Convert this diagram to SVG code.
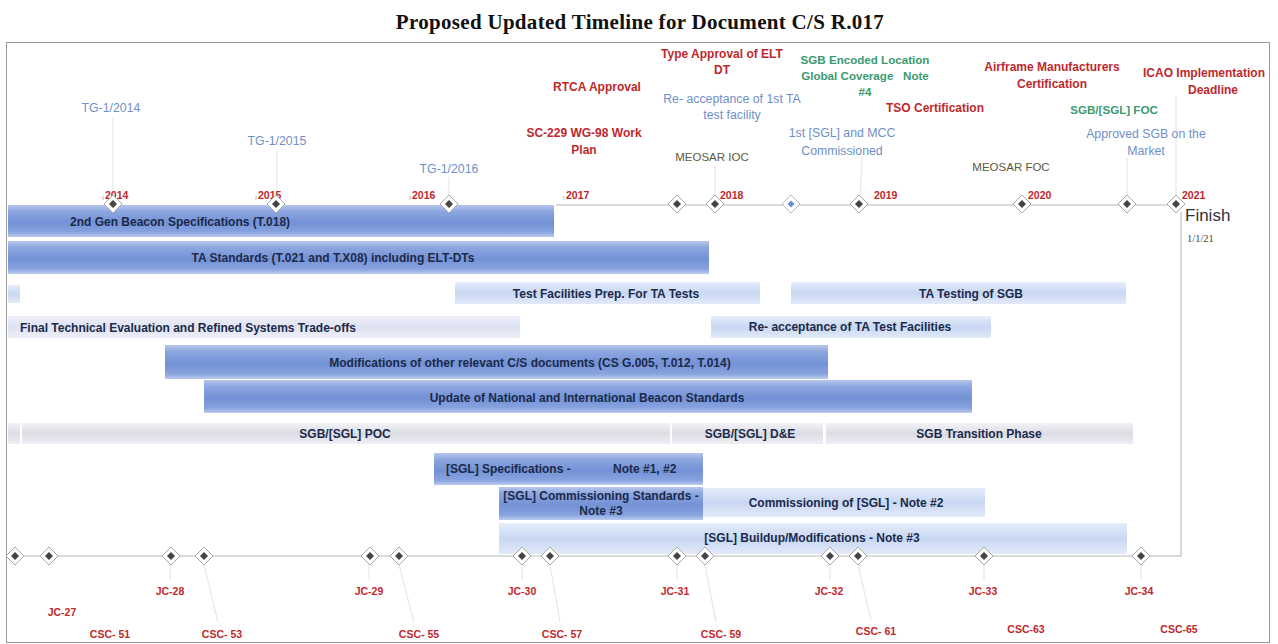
<svg xmlns="http://www.w3.org/2000/svg" width="1278" height="644" viewBox="0 0 1278 644">
<style>
.title{font-family:"Liberation Serif",serif;font-weight:bold;font-size:21px;letter-spacing:0.3px;fill:#111}
.bt{font-family:"Liberation Sans",Arial,sans-serif;font-weight:bold;font-size:12px;fill:#1b2a4a}
.red{font-family:"Liberation Sans",Arial,sans-serif;font-weight:bold;font-size:12px;fill:#c0282d}
.blu{font-family:"Liberation Sans",Arial,sans-serif;font-size:12.3px;fill:#6f8fc9}
.grn{font-family:"Liberation Sans",Arial,sans-serif;font-weight:bold;font-size:11.6px;fill:#3c9a70}
.olv{font-family:"Liberation Sans",Arial,sans-serif;font-size:11.5px;fill:#5a5a3a}
.yr{font-family:"Liberation Sans",Arial,sans-serif;font-weight:bold;font-size:10.5px;fill:#c0282d}
.bot{font-family:"Liberation Sans",Arial,sans-serif;font-weight:bold;font-size:10.5px;fill:#c0282d}
.lead{stroke:#e2e2e2;stroke-width:1;fill:none}
.axis{stroke:#b8b8b8;stroke-width:1;fill:none}
.tick{stroke:#d8b0b0;stroke-width:1;fill:none}
.mid{text-anchor:middle}
</style>
<defs>
<linearGradient id="gMed" x1="0" y1="0" x2="0" y2="1">
<stop offset="0" stop-color="#b7c7ec"/>
<stop offset="0.2" stop-color="#8ca6df"/>
<stop offset="0.55" stop-color="#7391d6"/>
<stop offset="0.85" stop-color="#88a3df"/>
<stop offset="1" stop-color="#bccbee"/>
</linearGradient>
<linearGradient id="gLight" x1="0" y1="0" x2="0" y2="1">
<stop offset="0" stop-color="#e6edfa"/>
<stop offset="0.5" stop-color="#c8d7f3"/>
<stop offset="1" stop-color="#e2eaf9"/>
</linearGradient>
<linearGradient id="gGray" x1="0" y1="0" x2="0" y2="1">
<stop offset="0" stop-color="#f2f2f6"/>
<stop offset="0.5" stop-color="#dcdce5"/>
<stop offset="1" stop-color="#eeeef3"/>
</linearGradient>
<linearGradient id="gLav" x1="0" y1="0" x2="0" y2="1">
<stop offset="0" stop-color="#eef0f9"/>
<stop offset="0.5" stop-color="#dfe2f3"/>
<stop offset="1" stop-color="#edeff8"/>
</linearGradient>
<g id="ms">
<path d="M0,-9 L9,0 L0,9 L-9,0 Z" fill="#fff" stroke="#a8a8a8" stroke-width="1"/>
<path d="M0,-4 L4,0 L0,4 L-4,0 Z" fill="#444"/>
</g>
<g id="msb">
<path d="M0,-9 L9,0 L0,9 L-9,0 Z" fill="#fff" stroke="#b0b8cc" stroke-width="1"/>
<path d="M0,-3.5 L3.5,0 L0,3.5 L-3.5,0 Z" fill="#6a8fd6"/>
</g>
</defs>

<rect x="0" y="0" width="1278" height="644" fill="#fff"/>
<text class="title mid" x="640" y="29">Proposed Updated Timeline for Document C/S R.017</text>
<rect x="6.5" y="42.5" width="1263" height="600" fill="none" stroke="#9a9a9a" stroke-width="1"/>

<g id="connectors">
<line class="axis" x1="556" y1="205" x2="1176" y2="205"/>
<line class="axis" x1="15" y1="556" x2="1141" y2="556"/>
<path d="M1181,212 V556 H1150" fill="none" stroke="#b0b0b0" stroke-width="1"/>
<line class="tick" x1="103" y1="196" x2="103" y2="200"/>
<line class="tick" x1="256" y1="196" x2="256" y2="200"/>
<line class="tick" x1="410" y1="196" x2="410" y2="200"/>
<line class="tick" x1="564" y1="196" x2="564" y2="200"/>
<line class="lead" x1="113" y1="118" x2="113" y2="195"/>
<line class="lead" x1="277" y1="150" x2="277" y2="195"/>
<line class="lead" x1="449" y1="177" x2="449" y2="195"/>
<line class="lead" x1="715" y1="165" x2="715" y2="195"/>
<line class="lead" x1="862" y1="158" x2="860" y2="195"/>
<line class="lead" x1="1127" y1="158" x2="1127" y2="195"/>
<line class="lead" x1="1176" y1="97" x2="1176" y2="195"/>
<line class="lead" x1="170" y1="565" x2="170" y2="580"/>
<line class="lead" x1="369" y1="565" x2="369" y2="580"/>
<line class="lead" x1="522" y1="565" x2="522" y2="580"/>
<line class="lead" x1="677" y1="565" x2="677" y2="580"/>
<line class="lead" x1="830" y1="565" x2="830" y2="580"/>
<line class="lead" x1="984" y1="565" x2="984" y2="580"/>
<line class="lead" x1="1141" y1="565" x2="1141" y2="580"/>
<line class="lead" x1="204" y1="565" x2="218" y2="622"/>
<line class="lead" x1="399" y1="565" x2="414" y2="622"/>
<line class="lead" x1="550" y1="565" x2="560" y2="622"/>
<line class="lead" x1="705" y1="565" x2="716" y2="622"/>
<line class="lead" x1="858" y1="565" x2="871" y2="620"/>
</g>

<g id="years">
<text class="yr" x="105" y="199">2014</text>
<text class="yr" x="258" y="199">2015</text>
<text class="yr" x="412" y="199">2016</text>
<text class="yr" x="566" y="199">2017</text>
<text class="yr" x="720" y="199">2018</text>
<text class="yr" x="874" y="199">2019</text>
<text class="yr" x="1028" y="199">2020</text>
<text class="yr" x="1182" y="199">2021</text>
</g>

<g id="bar-2ndgen"><rect x="8" y="205" width="546" height="32" fill="url(#gMed)"/><text class="bt" x="70" y="226">2nd Gen Beacon Specifications (T.018)</text></g>
<g id="bar-tastd"><rect x="8" y="241" width="701" height="33" fill="url(#gMed)"/><text class="bt mid" x="333" y="262">TA Standards (T.021 and T.X08) including ELT-DTs</text></g>
<g id="bar-small1"><rect x="8" y="285" width="12" height="18" fill="url(#gLight)"/></g>
<g id="bar-testfac"><rect x="455" y="282" width="305" height="22" fill="url(#gLight)"/><text class="bt mid" x="606" y="298">Test Facilities Prep. For TA Tests</text></g>
<g id="bar-tatest"><rect x="791" y="282" width="335" height="22" fill="url(#gLight)"/><text class="bt mid" x="971" y="298">TA Testing of SGB</text></g>
<g id="bar-final"><rect x="8" y="316" width="512" height="22" fill="url(#gLav)"/><text class="bt" x="20" y="332">Final Technical Evaluation and Refined Systems Trade-offs</text></g>
<g id="bar-reacc"><rect x="711" y="316" width="280" height="22" fill="url(#gLight)"/><text class="bt mid" x="850" y="331">Re- acceptance of TA Test Facilities</text></g>
<g id="bar-mods"><rect x="165" y="345" width="663" height="34" fill="url(#gMed)"/><text class="bt mid" x="530" y="367">Modifications of other relevant C/S documents (CS G.005, T.012, T.014)</text></g>
<g id="bar-update"><rect x="204" y="380" width="768" height="33" fill="url(#gMed)"/><text class="bt mid" x="587" y="402">Update of National and International Beacon Standards</text></g>
<g id="bar-small2"><rect x="8" y="423" width="12" height="21" fill="url(#gGray)"/></g>
<g id="bar-poc"><rect x="22" y="423" width="648" height="21" fill="url(#gGray)"/><text class="bt mid" x="345" y="438">SGB/[SGL] POC</text></g>
<g id="bar-de"><rect x="672" y="423" width="151" height="21" fill="url(#gGray)"/><text class="bt mid" x="750" y="438">SGB/[SGL] D&amp;E</text></g>
<g id="bar-trans"><rect x="826" y="423" width="307" height="21" fill="url(#gGray)"/><text class="bt mid" x="979" y="438">SGB Transition Phase</text></g>
<g id="bar-sglspec"><rect x="434" y="453" width="269" height="32" fill="url(#gMed)"/><text class="bt" x="446" y="473">[SGL] Specifications -<tspan x="613">Note #1, #2</tspan></text></g>
<g id="bar-sglcomstd"><rect x="499" y="487" width="204" height="33" fill="url(#gMed)"/><text class="bt mid" x="601" y="500">[SGL] Commissioning Standards -</text><text class="bt mid" x="601" y="515">Note #3</text></g>
<g id="bar-sglcom"><rect x="703" y="488" width="282" height="29" fill="url(#gLight)"/><text class="bt mid" x="846" y="507">Commissioning of [SGL] - Note #2</text></g>
<g id="bar-buildup"><rect x="499" y="523" width="628" height="31" fill="url(#gLight)"/><text class="bt mid" x="812" y="542">[SGL] Buildup/Modifications - Note #3</text></g>

<g id="top-milestones">
<use href="#ms" x="113" y="204"/>
<use href="#ms" x="276" y="204"/>
<use href="#ms" x="449" y="204"/>
<use href="#ms" x="677" y="204"/>
<use href="#ms" x="715" y="204"/>
<use href="#msb" x="791" y="204"/>
<use href="#ms" x="859" y="204"/>
<use href="#ms" x="1022" y="204"/>
<use href="#ms" x="1127" y="204"/>
<use href="#ms" x="1176" y="204"/>
</g>

<g id="top-labels">
<text class="blu mid" x="111" y="112">TG-1/2014</text>
<text class="blu mid" x="277" y="145">TG-1/2015</text>
<text class="blu mid" x="449" y="173">TG-1/2016</text>
<text class="red mid" x="597" y="91">RTCA Approval</text>
<text class="red mid" x="584" y="137">SC-229 WG-98 Work</text>
<text class="red mid" x="584" y="154">Plan</text>
<text class="red mid" x="722" y="58">Type Approval of ELT</text>
<text class="red mid" x="722" y="74">DT</text>
<text class="blu mid" x="732" y="103">Re- acceptance of 1st TA</text>
<text class="blu mid" x="732" y="119">test facility</text>
<text class="olv mid" x="712" y="161">MEOSAR IOC</text>
<text class="grn mid" x="865" y="64">SGB Encoded Location</text>
<text class="grn mid" x="865" y="80" xml:space="preserve">Global Coverage   Note</text>
<text class="grn mid" x="865" y="96">#4</text>
<text class="red mid" x="935" y="112">TSO Certification</text>
<text class="blu mid" x="842" y="137">1st [SGL] and MCC</text>
<text class="blu mid" x="842" y="155">Commissioned</text>
<text class="olv mid" x="1011" y="171">MEOSAR FOC</text>
<text class="red mid" x="1052" y="71">Airframe Manufacturers</text>
<text class="red mid" x="1052" y="88">Certification</text>
<text class="red mid" x="1204" y="77">ICAO Implementation</text>
<text class="red mid" x="1213" y="94">Deadline</text>
<text class="grn mid" x="1114" y="114">SGB/[SGL] FOC</text>
<text class="blu mid" x="1146" y="138">Approved SGB on the</text>
<text class="blu mid" x="1146" y="155">Market</text>
<text x="1185" y="221" font-family="'Liberation Sans',Arial,sans-serif" font-size="17" fill="#333">Finish</text>
<text x="1187" y="242" font-family="'Liberation Serif',serif" font-size="10.5" fill="#444">1/1/21</text>
</g>

<g id="bottom-milestones">
<use href="#ms" x="15" y="556"/>
<use href="#ms" x="49" y="556"/>
<use href="#ms" x="171" y="556"/>
<use href="#ms" x="204" y="556"/>
<use href="#ms" x="370" y="556"/>
<use href="#ms" x="399" y="556"/>
<use href="#ms" x="522" y="556"/>
<use href="#ms" x="550" y="556"/>
<use href="#ms" x="677" y="556"/>
<use href="#ms" x="705" y="556"/>
<use href="#ms" x="830" y="556"/>
<use href="#ms" x="858" y="556"/>
<use href="#ms" x="984" y="556"/>
<use href="#ms" x="1141" y="556"/>
</g>

<g id="bottom-labels">
<text class="bot mid" x="62" y="616">JC-27</text>
<text class="bot mid" x="170" y="595">JC-28</text>
<text class="bot mid" x="110" y="638">CSC- 51</text>
<text class="bot mid" x="222" y="638">CSC- 53</text>
<text class="bot mid" x="369" y="595">JC-29</text>
<text class="bot mid" x="419" y="638">CSC- 55</text>
<text class="bot mid" x="522" y="595">JC-30</text>
<text class="bot mid" x="562" y="638">CSC- 57</text>
<text class="bot mid" x="675" y="595">JC-31</text>
<text class="bot mid" x="721" y="638">CSC- 59</text>
<text class="bot mid" x="829" y="595">JC-32</text>
<text class="bot mid" x="876" y="635">CSC- 61</text>
<text class="bot mid" x="983" y="595">JC-33</text>
<text class="bot mid" x="1026" y="633">CSC-63</text>
<text class="bot mid" x="1139" y="595">JC-34</text>
<text class="bot mid" x="1179" y="633">CSC-65</text>
</g>
</svg>
